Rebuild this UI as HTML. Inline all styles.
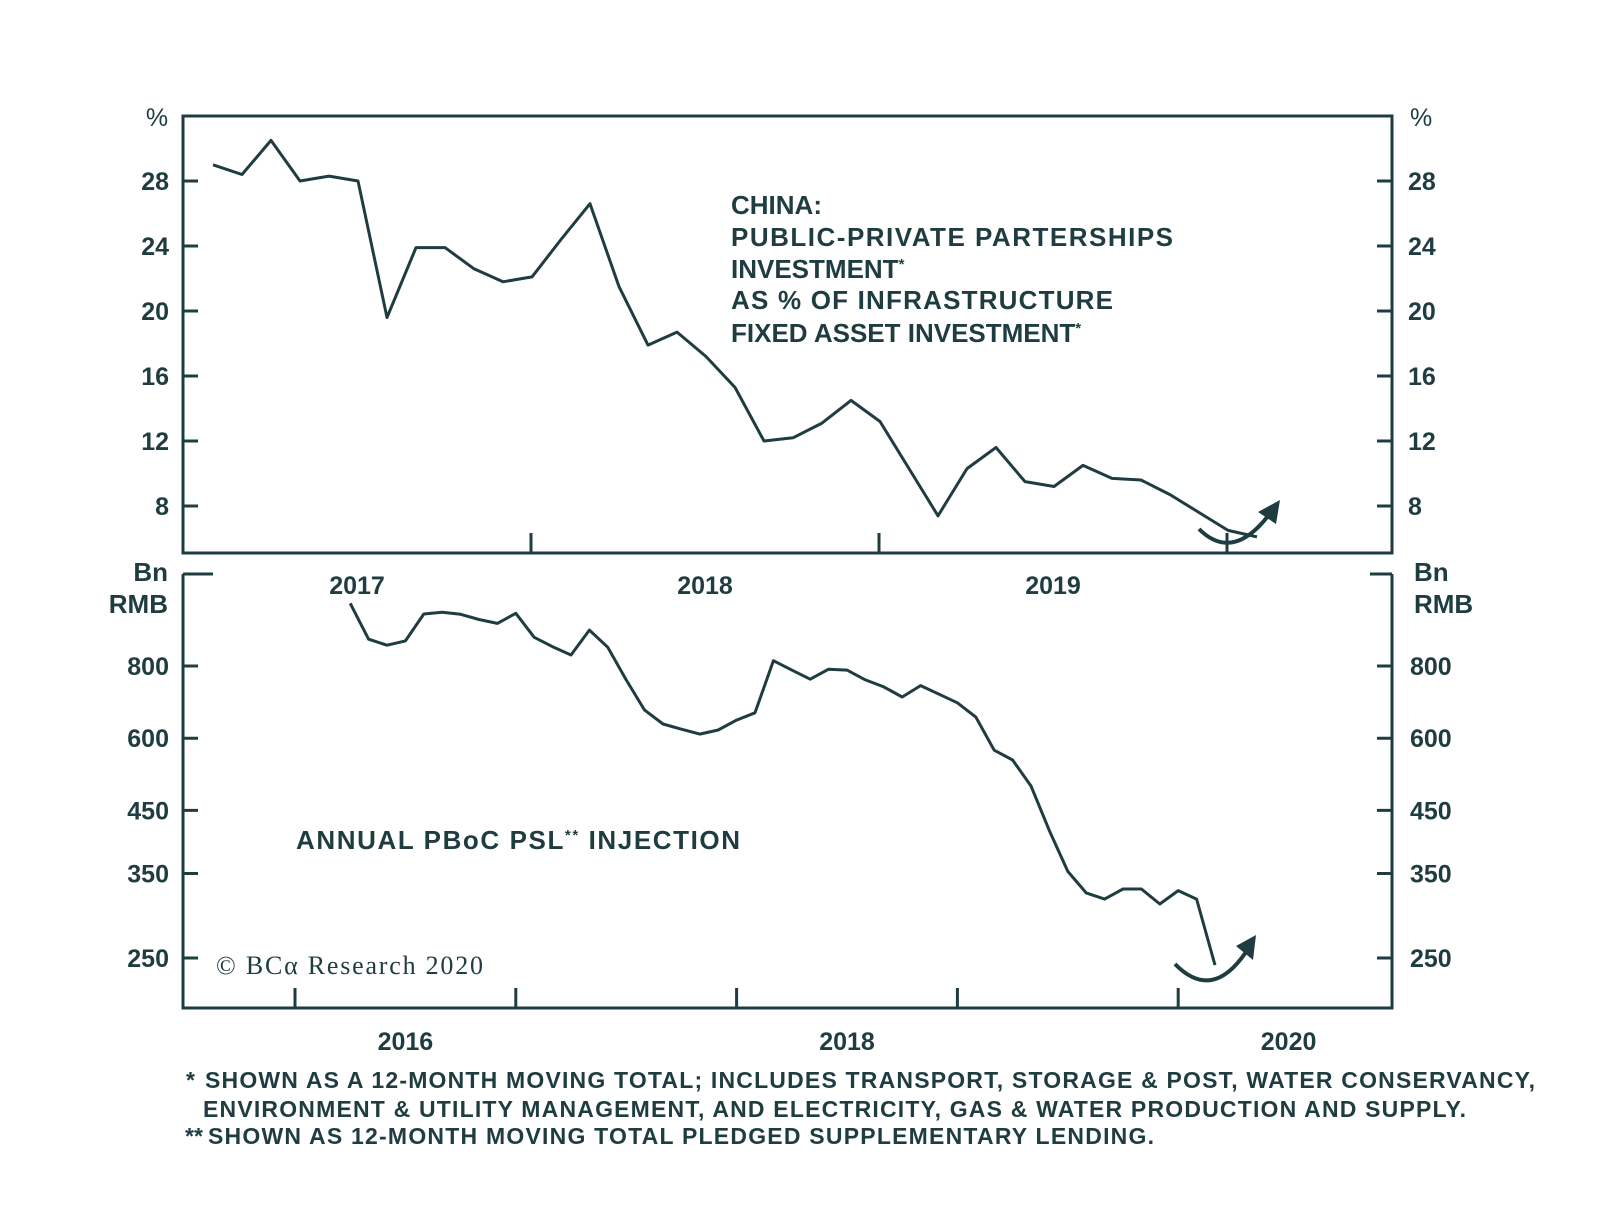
<!DOCTYPE html>
<html><head><meta charset="utf-8"><style>
html,body{margin:0;padding:0;background:#fff;}
svg{display:block;}
text{font-family:"Liberation Sans",sans-serif;fill:#1f3d40;}
.b{font-weight:bold;}
</style></head><body>
<svg id="chart" width="1600" height="1216" viewBox="0 0 1600 1216">
<g id="frame" stroke="#1f3d40" stroke-width="3" fill="none">
  <rect x="183" y="116" width="1209" height="437"/>
  <path d="M183 574 V1008 H1392 V574"/>
  <path d="M183 574 H213 M1370 574 H1392"/>
</g>
<g id="topAxes"></g>
<g id="botAxes"></g>
<path id="topLine" fill="none" stroke="#1f3d40" stroke-width="3" stroke-linejoin="round"/>
<path id="botLine" fill="none" stroke="#1f3d40" stroke-width="3" stroke-linejoin="round"/>
<g fill="none" stroke="#1f3d40" stroke-width="4">
  <path d="M1199 529 Q1232 562 1268 516"/>
  <path d="M1175 964 Q1212 1002 1246 952"/>
</g>
<g fill="#1f3d40">
  <polygon points="1280,500 1258,512 1276,524"/>
  <polygon points="1256,935 1236,946 1253,960"/>
</g>
<g class="b" font-size="26">
  <text x="731" y="214">CHINA:</text>
  <text x="731" y="246" textLength="442">PUBLIC-PRIVATE PARTERSHIPS</text>
  <text x="731" y="278">INVESTMENT<tspan font-size="15" dy="-9">*</tspan></text>
  <text x="731" y="309" textLength="382">AS % OF INFRASTRUCTURE</text>
  <text x="731" y="342">FIXED ASSET INVESTMENT<tspan font-size="15" dy="-9">*</tspan></text>
</g>
<text class="b" x="296" y="849" font-size="26" textLength="444">ANNUAL PBoC PSL<tspan font-size="15" dy="-9">**</tspan><tspan dy="9"> INJECTION</tspan></text>
<text x="216" y="974" font-size="26" style="font-family:'Liberation Serif',serif" textLength="267">© BCα Research 2020</text>
<g class="b" font-size="23">
  <text x="186" y="1088">*</text>
  <text x="205" y="1088" textLength="1330">SHOWN AS A 12-MONTH MOVING TOTAL; INCLUDES TRANSPORT, STORAGE &amp; POST, WATER CONSERVANCY,</text>
  <text x="203" y="1117" textLength="1263">ENVIRONMENT &amp; UTILITY MANAGEMENT, AND ELECTRICITY, GAS &amp; WATER PRODUCTION AND SUPPLY.</text>
  <text x="185" y="1144">**</text>
  <text x="208" y="1144" textLength="946">SHOWN AS 12-MONTH MOVING TOTAL PLEDGED SUPPLEMENTARY LENDING.</text>
</g>
</svg>
<script>
// Top panel: PPP investment as % of infra FAI, monthly from Feb 2017
const topMonths = [1,2,3,4,5,6,7,8,9,10,11,12,13,14,15,16,17,18,19,20,21,22,23,24,25,26,27,28,29,30,31,32,33,34,35,36,37];
const topValues = [29.0,28.4,30.5,28.0,28.3,28.0,19.6,23.9,23.9,22.6,21.8,22.1,24.4,26.6,21.5,17.9,18.7,17.2,15.3,12.0,12.2,13.1,14.5,13.2,10.3,7.4,10.3,11.6,9.5,9.2,10.5,9.7,9.6,8.7,7.6,6.5,6.1];
const topTicks = [8,12,16,20,24,28];
const topYears = ["2017","2018","2019"];
// Bottom panel: annual PSL injection, Bn RMB, monthly index from Jan 2016
const botMonths = [3,4,5,6,7,8,9,10,11,12,13,14,15,16,17,18,19,20,21,22,23,24,25,26,27,28,29,30,31,32,33,34,35,36,37,38,39,40,41,42,43,44,45,46,47,48,49,50];
const botValues = [1027,890,869,884,984,991,983,963,948,987,897,864,836,923,862,757,671,635,622,610,620,645,664,817,787,759,790,787,757,736,707,740,715,691,653,572,550,496,415,353,324,316,329,329,310,327,316,243];
const botTicks = [250,350,450,600,800];
const botYears = ["2016","2018","2020"];

const NS="http://www.w3.org/2000/svg";
const C="#1f3d40";
function mk(tag,attrs,parent){const e=document.createElementNS(NS,tag);for(const k in attrs)e.setAttribute(k,attrs[k]);parent.appendChild(e);return e;}

const tx=m=>184+m*29;
const ty=v=>181+(28-v)*16.25;
const bx=m=>295+m*18.4;
const by=v=>666-(Math.log(v)-Math.log(800))*251;

document.getElementById('topLine').setAttribute('d',topMonths.map((m,i)=>(i?'L':'M')+tx(m).toFixed(1)+' '+ty(topValues[i]).toFixed(1)).join(' '));
document.getElementById('botLine').setAttribute('d',botMonths.map((m,i)=>(i?'L':'M')+bx(m).toFixed(1)+' '+by(botValues[i]).toFixed(1)).join(' '));

const ta=document.getElementById('topAxes');
topTicks.forEach(v=>{
  const y=ty(v);
  const l=mk('path',{d:`M183 ${y} H198 M1377 ${y} H1392`,stroke:C,'stroke-width':3},ta);
  
  
  const a=mk('text',{x:169,y:y+9,'text-anchor':'end','font-size':25,'class':'b'},ta);a.textContent=v;
  
  
  const b=mk('text',{x:1408,y:y+9,'font-size':25,'class':'b'},ta);b.textContent=v;
  
  
});
topYears.forEach((s,i)=>{
  const x0=tx(12*i)-1;
  if(i>0){const t=mk('path',{d:`M${x0} 553 V533`,stroke:C,'stroke-width':3},ta);
    
    }
  const t=mk('text',{x:x0+174,y:594,'text-anchor':'middle','font-size':25,'class':'b'},ta);t.textContent=s;
  
  
});
const t3=mk('path',{d:`M${tx(36)-1} 553 V533`,stroke:C,'stroke-width':3},ta);


[['%',157,'middle'],['%',1410,'start']].forEach(p=>{
  const e=mk('text',{x:p[1],y:126,'text-anchor':p[2],'font-size':25},ta);e.textContent=p[0];
  
  
});

const ba=document.getElementById('botAxes');
botTicks.forEach(v=>{
  const y=by(v);
  const l=mk('path',{d:`M183 ${y} H198 M1377 ${y} H1392`,stroke:C,'stroke-width':3},ba);
  
  
  const a=mk('text',{x:169,y:y+9,'text-anchor':'end','font-size':25,'class':'b'},ba);a.textContent=v;
  
  
  const b=mk('text',{x:1410,y:y+9,'font-size':25,'class':'b'},ba);b.textContent=v;
  
  
});
[0,12,24,36,48].forEach(m=>{
  const t=mk('path',{d:`M${bx(m)} 1008 V988`,stroke:C,'stroke-width':3},ba);
  
  
});
botYears.forEach((s,i)=>{
  const t=mk('text',{x:bx(24*i+6),y:1050,'text-anchor':'middle','font-size':25,'class':'b'},ba);t.textContent=s;
  
  
});
[['Bn',168,'end',581],['RMB',168,'end',613],['Bn',1414,'start',581],['RMB',1414,'start',613]].forEach(p=>{
  const e=mk('text',{x:p[1],y:p[3],'text-anchor':p[2],'font-size':26,'class':'b'},ba);e.textContent=p[0];
  
  
});
</script>
</body></html>
